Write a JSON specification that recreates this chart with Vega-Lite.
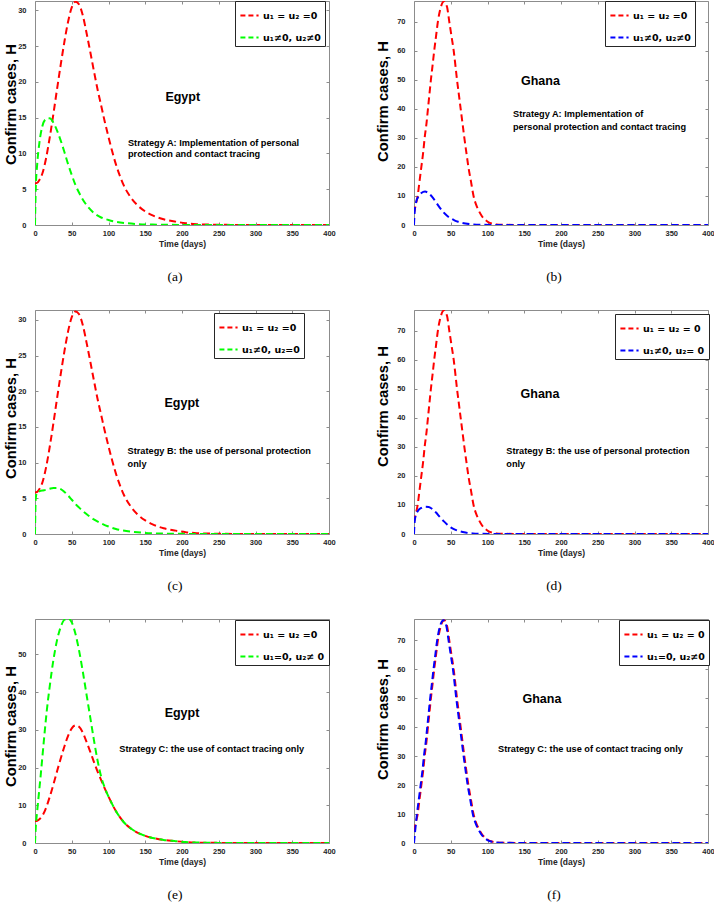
{
"$schema": "https://vega.github.io/schema/vega-lite/v6.json",
"padding": {"left": 2, "top": 0, "right": 0, "bottom": 0},
"bounds": "flush",
"columns": 2,
"spacing": {"row": 85, "column": 85},
"datasets": {
"curves": [
{"series":"E0","t":0,"H":5.8},{"series":"E0","t":3,"H":5.9},{"series":"E0","t":6,"H":6.3},{"series":"E0","t":10,"H":7.2},{"series":"E0","t":15,"H":9.3},{"series":"E0","t":20,"H":12.2},{"series":"E0","t":25,"H":15.5},{"series":"E0","t":30,"H":19.0},{"series":"E0","t":35,"H":22.4},{"series":"E0","t":40,"H":25.6},{"series":"E0","t":45,"H":28.4},{"series":"E0","t":50,"H":30.4},{"series":"E0","t":55,"H":31.2},{"series":"E0","t":60,"H":30.8},{"series":"E0","t":65,"H":29.3},{"series":"E0","t":70,"H":26.9},{"series":"E0","t":75,"H":24.3},{"series":"E0","t":80,"H":21.6},{"series":"E0","t":85,"H":19.0},{"series":"E0","t":90,"H":16.7},{"series":"E0","t":95,"H":14.4},{"series":"E0","t":100,"H":12.3},{"series":"E0","t":105,"H":10.3},{"series":"E0","t":110,"H":8.5},{"series":"E0","t":115,"H":7.0},{"series":"E0","t":120,"H":5.7},{"series":"E0","t":130,"H":3.9},{"series":"E0","t":140,"H":2.7},{"series":"E0","t":150,"H":1.9},{"series":"E0","t":160,"H":1.35},{"series":"E0","t":175,"H":0.8},{"series":"E0","t":190,"H":0.5},{"series":"E0","t":205,"H":0.25},{"series":"E0","t":220,"H":0.12},{"series":"E0","t":240,"H":0.05},{"series":"E0","t":260,"H":0.02},{"series":"E0","t":300,"H":0},{"series":"E0","t":400,"H":0},
{"series":"EA","t":0,"H":0},{"series":"EA","t":1,"H":5},{"series":"EA","t":3,"H":8.5},{"series":"EA","t":6,"H":11.5},{"series":"EA","t":10,"H":13.8},{"series":"EA","t":15,"H":14.8},{"series":"EA","t":20,"H":14.9},{"series":"EA","t":25,"H":14.3},{"series":"EA","t":30,"H":13.2},{"series":"EA","t":35,"H":11.8},{"series":"EA","t":40,"H":10.2},{"series":"EA","t":45,"H":8.5},{"series":"EA","t":50,"H":7.0},{"series":"EA","t":55,"H":5.6},{"series":"EA","t":60,"H":4.5},{"series":"EA","t":70,"H":2.8},{"series":"EA","t":80,"H":1.7},{"series":"EA","t":90,"H":1.05},{"series":"EA","t":100,"H":0.7},{"series":"EA","t":110,"H":0.45},{"series":"EA","t":125,"H":0.25},{"series":"EA","t":140,"H":0.13},{"series":"EA","t":160,"H":0.06},{"series":"EA","t":200,"H":0.01},{"series":"EA","t":250,"H":0},{"series":"EA","t":400,"H":0},
{"series":"EB","t":0,"H":0},{"series":"EB","t":1,"H":5},{"series":"EB","t":3,"H":5.9},{"series":"EB","t":6,"H":6.0},{"series":"EB","t":10,"H":6.1},{"series":"EB","t":15,"H":6.2},{"series":"EB","t":20,"H":6.35},{"series":"EB","t":25,"H":6.45},{"series":"EB","t":30,"H":6.45},{"series":"EB","t":35,"H":6.3},{"series":"EB","t":40,"H":5.9},{"series":"EB","t":45,"H":5.4},{"series":"EB","t":50,"H":4.8},{"series":"EB","t":55,"H":4.2},{"series":"EB","t":60,"H":3.7},{"series":"EB","t":70,"H":2.8},{"series":"EB","t":80,"H":2.05},{"series":"EB","t":90,"H":1.5},{"series":"EB","t":100,"H":1.05},{"series":"EB","t":110,"H":0.7},{"series":"EB","t":120,"H":0.48},{"series":"EB","t":135,"H":0.28},{"series":"EB","t":150,"H":0.15},{"series":"EB","t":175,"H":0.06},{"series":"EB","t":200,"H":0.02},{"series":"EB","t":250,"H":0},{"series":"EB","t":400,"H":0},
{"series":"EC","t":0,"H":0},{"series":"EC","t":1,"H":4},{"series":"EC","t":3,"H":8.5},{"series":"EC","t":5,"H":12.5},{"series":"EC","t":8,"H":18.5},{"series":"EC","t":12,"H":27},{"series":"EC","t":16,"H":35},{"series":"EC","t":20,"H":41.5},{"series":"EC","t":25,"H":48.5},{"series":"EC","t":30,"H":53.8},{"series":"EC","t":35,"H":57.3},{"series":"EC","t":40,"H":59.2},{"series":"EC","t":45,"H":59.5},{"series":"EC","t":50,"H":58.5},{"series":"EC","t":55,"H":55.5},{"series":"EC","t":60,"H":51},{"series":"EC","t":65,"H":45.5},{"series":"EC","t":70,"H":39.5},{"series":"EC","t":75,"H":33.5},{"series":"EC","t":80,"H":27.5},{"series":"EC","t":85,"H":22.0},{"series":"EC","t":90,"H":17.6},{"series":"EC","t":95,"H":14.6},{"series":"EC","t":100,"H":12.3},{"series":"EC","t":105,"H":10.3},{"series":"EC","t":110,"H":8.5},{"series":"EC","t":115,"H":7.0},{"series":"EC","t":120,"H":5.7},{"series":"EC","t":130,"H":3.9},{"series":"EC","t":140,"H":2.7},{"series":"EC","t":150,"H":1.9},{"series":"EC","t":160,"H":1.35},{"series":"EC","t":175,"H":0.8},{"series":"EC","t":190,"H":0.5},{"series":"EC","t":205,"H":0.25},{"series":"EC","t":220,"H":0.12},{"series":"EC","t":250,"H":0.03},{"series":"EC","t":300,"H":0},{"series":"EC","t":400,"H":0},
{"series":"G0","t":0,"H":4},{"series":"G0","t":2,"H":6.5},{"series":"G0","t":5,"H":10},{"series":"G0","t":7.5,"H":15},{"series":"G0","t":10,"H":20},{"series":"G0","t":12.5,"H":25},{"series":"G0","t":14.5,"H":30},{"series":"G0","t":17,"H":35},{"series":"G0","t":19,"H":40},{"series":"G0","t":21,"H":45},{"series":"G0","t":23,"H":50},{"series":"G0","t":25.3,"H":55},{"series":"G0","t":27.5,"H":60},{"series":"G0","t":30,"H":65},{"series":"G0","t":32.5,"H":70},{"series":"G0","t":36.5,"H":75},{"series":"G0","t":41,"H":77},{"series":"G0","t":45,"H":75},{"series":"G0","t":48,"H":70},{"series":"G0","t":51,"H":65},{"series":"G0","t":54,"H":60},{"series":"G0","t":56.3,"H":55},{"series":"G0","t":58.5,"H":50},{"series":"G0","t":61,"H":45},{"series":"G0","t":63.5,"H":40},{"series":"G0","t":66,"H":35},{"series":"G0","t":68.5,"H":30},{"series":"G0","t":71.2,"H":25},{"series":"G0","t":74,"H":20},{"series":"G0","t":77.5,"H":15},{"series":"G0","t":81,"H":10},{"series":"G0","t":84.5,"H":7},{"series":"G0","t":88,"H":5},{"series":"G0","t":92,"H":3.2},{"series":"G0","t":96,"H":2},{"series":"G0","t":101,"H":1.0},{"series":"G0","t":106,"H":0.5},{"series":"G0","t":112,"H":0.2},{"series":"G0","t":120,"H":0.08},{"series":"G0","t":140,"H":0.02},{"series":"G0","t":160,"H":0},{"series":"G0","t":400,"H":0},
{"series":"GA","t":0,"H":0},{"series":"GA","t":1,"H":5},{"series":"GA","t":3,"H":8},{"series":"GA","t":6,"H":9.8},{"series":"GA","t":10,"H":11},{"series":"GA","t":15,"H":11.5},{"series":"GA","t":20,"H":10.9},{"series":"GA","t":25,"H":9.6},{"series":"GA","t":30,"H":7.8},{"series":"GA","t":35,"H":6.0},{"series":"GA","t":40,"H":4.4},{"series":"GA","t":45,"H":3.2},{"series":"GA","t":50,"H":2.3},{"series":"GA","t":55,"H":1.6},{"series":"GA","t":60,"H":1.1},{"series":"GA","t":70,"H":0.5},{"series":"GA","t":80,"H":0.2},{"series":"GA","t":90,"H":0.08},{"series":"GA","t":110,"H":0.02},{"series":"GA","t":140,"H":0},{"series":"GA","t":400,"H":0},
{"series":"GB","t":0,"H":0},{"series":"GB","t":1,"H":4.5},{"series":"GB","t":3,"H":6.8},{"series":"GB","t":6,"H":8.2},{"series":"GB","t":10,"H":9.0},{"series":"GB","t":15,"H":9.4},{"series":"GB","t":20,"H":9.3},{"series":"GB","t":25,"H":8.6},{"series":"GB","t":30,"H":7.4},{"series":"GB","t":35,"H":5.9},{"series":"GB","t":40,"H":4.5},{"series":"GB","t":45,"H":3.3},{"series":"GB","t":50,"H":2.3},{"series":"GB","t":55,"H":1.6},{"series":"GB","t":60,"H":1.1},{"series":"GB","t":70,"H":0.5},{"series":"GB","t":80,"H":0.2},{"series":"GB","t":90,"H":0.08},{"series":"GB","t":110,"H":0.02},{"series":"GB","t":140,"H":0},{"series":"GB","t":400,"H":0},
{"series":"GC","t":0,"H":0},{"series":"GC","t":1.5,"H":4},{"series":"GC","t":4,"H":10},{"series":"GC","t":6.5,"H":15},{"series":"GC","t":9,"H":20},{"series":"GC","t":11.5,"H":25},{"series":"GC","t":13.5,"H":30},{"series":"GC","t":16,"H":35},{"series":"GC","t":18,"H":40},{"series":"GC","t":20,"H":45},{"series":"GC","t":22,"H":50},{"series":"GC","t":24.3,"H":55},{"series":"GC","t":26.5,"H":60},{"series":"GC","t":29,"H":65},{"series":"GC","t":31.5,"H":70},{"series":"GC","t":35.5,"H":75},{"series":"GC","t":40,"H":77},{"series":"GC","t":44,"H":75},{"series":"GC","t":47,"H":70},{"series":"GC","t":50,"H":65},{"series":"GC","t":53,"H":60},{"series":"GC","t":55.3,"H":55},{"series":"GC","t":57.5,"H":50},{"series":"GC","t":60,"H":45},{"series":"GC","t":62.5,"H":40},{"series":"GC","t":65,"H":35},{"series":"GC","t":67.5,"H":30},{"series":"GC","t":70.2,"H":25},{"series":"GC","t":73,"H":20},{"series":"GC","t":76.5,"H":15},{"series":"GC","t":80,"H":10},{"series":"GC","t":83.5,"H":7},{"series":"GC","t":87,"H":5},{"series":"GC","t":91,"H":3.2},{"series":"GC","t":95,"H":2},{"series":"GC","t":100,"H":1.0},{"series":"GC","t":105,"H":0.5},{"series":"GC","t":111,"H":0.2},{"series":"GC","t":119,"H":0.08},{"series":"GC","t":140,"H":0.02},{"series":"GC","t":160,"H":0},{"series":"GC","t":400,"H":0}
]
},
"resolve": {"scale": {"x": "independent", "y": "independent", "color": "independent"}, "legend": {"color": "independent"}},
"concat": [
{
"width": 294, "height": 224,
"title": {"text": "(a)"},
"layer": [
{"data": {"name": "curves"}, "transform": [{"filter": {"field": "series", "oneOf": ["E0","EA"]}}],
 "mark": {"type": "line", "strokeDash": [7,4], "strokeWidth": 2, "clip": true, "interpolate": "monotone"},
 "encoding": {
  "x": {"field": "t", "type": "quantitative", "scale": {"domain": [0,400], "nice": false}, "axis": {"values": [0,50,100,150,200,250,300,350,400], "title": "Time (days)"}},
  "y": {"field": "H", "type": "quantitative", "scale": {"domain": [0,31.3], "nice": false}, "axis": {"values": [0,5,10,15,20,25,30], "title": "Confirm cases, H", "titleX": -24, "titleY": 103}},
  "color": {"field": "series", "type": "nominal", "scale": {"domain": ["E0","EA"], "range": ["#ff0000","#00ff00"]}, "legend": {"title": null, "orient": "none", "legendX": 200, "legendY": 0, "labelExpr": "datum.value == 'E0' ? 'u₁ = u₂ =0' : 'u₁≠0, u₂≠0'"}}
 }},
{"data": {"values": [{"t": 201, "H": 17.9, "label": "Egypt"}]},
 "mark": {"type": "text", "fontSize": 12.5, "fontWeight": "bold", "align": "center", "baseline": "middle"},
 "encoding": {
  "x": {"field": "t", "type": "quantitative", "axis": {"orient": "top", "labels": false, "title": null, "values": [0,50,100,150,200,250,300,350,400]}},
  "y": {"field": "H", "type": "quantitative", "axis": {"orient": "right", "labels": false, "title": null, "values": [0,5,10,15,20,25,30]}},
  "text": {"field": "label"}}},
{"data": {"values": [{"t": 126.5, "H": 11.5, "label": "Strategy A: Implementation of personal"}, {"t": 126.5, "H": 9.9, "label": "protection and contact tracing"}]},
 "mark": {"type": "text", "fontSize": 9.2, "fontWeight": "bold", "align": "left", "baseline": "middle"},
 "encoding": {
  "x": {"field": "t", "type": "quantitative", "axis": null},
  "y": {"field": "H", "type": "quantitative", "axis": null},
  "text": {"field": "label"}}}
],
"resolve": {"axis": {"x": "independent", "y": "independent"}}
},
{
"width": 294, "height": 224,
"title": {"text": "(b)"},
"layer": [
{"data": {"name": "curves"}, "transform": [{"filter": {"field": "series", "oneOf": ["G0","GA"]}}],
 "mark": {"type": "line", "strokeDash": [7,4], "strokeWidth": 2, "clip": true, "interpolate": "monotone"},
 "encoding": {
  "x": {"field": "t", "type": "quantitative", "scale": {"domain": [0,400], "nice": false}, "axis": {"values": [0,50,100,150,200,250,300,350,400], "title": "Time (days)"}},
  "y": {"field": "H", "type": "quantitative", "scale": {"domain": [0,77.1], "nice": false}, "axis": {"values": [0,10,20,30,40,50,60,70], "title": "Confirm cases, H", "titleX": -31, "titleY": 100}},
  "color": {"field": "series", "type": "nominal", "scale": {"domain": ["G0","GA"], "range": ["#ff0000","#0000ff"]}, "legend": {"title": null, "orient": "none", "legendX": 191, "legendY": 0, "labelExpr": "datum.value == 'G0' ? 'u₁ = u₂ =0' : 'u₁≠0, u₂≠0'"}}
 }},
{"data": {"values": [{"t": 172, "H": 49.6, "label": "Ghana"}]},
 "mark": {"type": "text", "fontSize": 12.5, "fontWeight": "bold", "align": "center", "baseline": "middle"},
 "encoding": {
  "x": {"field": "t", "type": "quantitative", "axis": {"orient": "top", "labels": false, "title": null, "values": [0,50,100,150,200,250,300,350,400]}},
  "y": {"field": "H", "type": "quantitative", "axis": {"orient": "right", "labels": false, "title": null, "values": [0,10,20,30,40,50,60,70]}},
  "text": {"field": "label"}}},
{"data": {"values": [{"t": 134.7, "H": 38.1, "label": "Strategy A: Implementation of"}, {"t": 134.7, "H": 33.7, "label": "personal protection and contact tracing"}]},
 "mark": {"type": "text", "fontSize": 9.2, "fontWeight": "bold", "align": "left", "baseline": "middle"},
 "encoding": {
  "x": {"field": "t", "type": "quantitative", "axis": null},
  "y": {"field": "H", "type": "quantitative", "axis": null},
  "text": {"field": "label"}}}
],
"resolve": {"axis": {"x": "independent", "y": "independent"}}
},
{
"width": 294, "height": 224,
"title": {"text": "(c)"},
"layer": [
{"data": {"name": "curves"}, "transform": [{"filter": {"field": "series", "oneOf": ["E0","EB"]}}],
 "mark": {"type": "line", "strokeDash": [7,4], "strokeWidth": 2, "clip": true, "interpolate": "monotone"},
 "encoding": {
  "x": {"field": "t", "type": "quantitative", "scale": {"domain": [0,400], "nice": false}, "axis": {"values": [0,50,100,150,200,250,300,350,400], "title": "Time (days)"}},
  "y": {"field": "H", "type": "quantitative", "scale": {"domain": [0,31.4], "nice": false}, "axis": {"values": [0,5,10,15,20,25,30], "title": "Confirm cases, H", "titleX": -24, "titleY": 108}},
  "color": {"field": "series", "type": "nominal", "scale": {"domain": ["E0","EB"], "range": ["#ff0000","#00ff00"]}, "legend": {"title": null, "orient": "none", "legendX": 179, "legendY": 3, "labelExpr": "datum.value == 'E0' ? 'u₁ = u₂ =0' : 'u₁≠0, u₂=0'"}}
 }},
{"data": {"values": [{"t": 199.8, "H": 18.3, "label": "Egypt"}]},
 "mark": {"type": "text", "fontSize": 12.5, "fontWeight": "bold", "align": "center", "baseline": "middle"},
 "encoding": {
  "x": {"field": "t", "type": "quantitative", "axis": {"orient": "top", "labels": false, "title": null, "values": [0,50,100,150,200,250,300,350,400]}},
  "y": {"field": "H", "type": "quantitative", "axis": {"orient": "right", "labels": false, "title": null, "values": [0,5,10,15,20,25,30]}},
  "text": {"field": "label"}}},
{"data": {"values": [{"t": 126, "H": 11.6, "label": "Strategy B: the use of personal protection"}, {"t": 126, "H": 9.8, "label": "\u00a0only"}]},
 "mark": {"type": "text", "fontSize": 9.2, "fontWeight": "bold", "align": "left", "baseline": "middle"},
 "encoding": {
  "x": {"field": "t", "type": "quantitative", "axis": null},
  "y": {"field": "H", "type": "quantitative", "axis": null},
  "text": {"field": "label"}}}
],
"resolve": {"axis": {"x": "independent", "y": "independent"}}
},
{
"width": 294, "height": 224,
"title": {"text": "(d)"},
"layer": [
{"data": {"name": "curves"}, "transform": [{"filter": {"field": "series", "oneOf": ["G0","GB"]}}],
 "mark": {"type": "line", "strokeDash": [7,4], "strokeWidth": 2, "clip": true, "interpolate": "monotone"},
 "encoding": {
  "x": {"field": "t", "type": "quantitative", "scale": {"domain": [0,400], "nice": false}, "axis": {"values": [0,50,100,150,200,250,300,350,400], "title": "Time (days)"}},
  "y": {"field": "H", "type": "quantitative", "scale": {"domain": [0,77.1], "nice": false}, "axis": {"values": [0,10,20,30,40,50,60,70], "title": "Confirm cases, H", "titleX": -31, "titleY": 96}},
  "color": {"field": "series", "type": "nominal", "scale": {"domain": ["G0","GB"], "range": ["#ff0000","#0000ff"]}, "legend": {"title": null, "orient": "none", "legendX": 201, "legendY": 4, "labelExpr": "datum.value == 'G0' ? 'u₁ = u₂ = 0' : 'u₁≠0, u₂= 0'"}}
 }},
{"data": {"values": [{"t": 171.4, "H": 48.1, "label": "Ghana"}]},
 "mark": {"type": "text", "fontSize": 12.5, "fontWeight": "bold", "align": "center", "baseline": "middle"},
 "encoding": {
  "x": {"field": "t", "type": "quantitative", "axis": {"orient": "top", "labels": false, "title": null, "values": [0,50,100,150,200,250,300,350,400]}},
  "y": {"field": "H", "type": "quantitative", "axis": {"orient": "right", "labels": false, "title": null, "values": [0,10,20,30,40,50,60,70]}},
  "text": {"field": "label"}}},
{"data": {"values": [{"t": 125.6, "H": 28.4, "label": "Strategy B: the use of personal protection"}, {"t": 125.6, "H": 24.1, "label": "\u00a0only"}]},
 "mark": {"type": "text", "fontSize": 9.2, "fontWeight": "bold", "align": "left", "baseline": "middle"},
 "encoding": {
  "x": {"field": "t", "type": "quantitative", "axis": null},
  "y": {"field": "H", "type": "quantitative", "axis": null},
  "text": {"field": "label"}}}
],
"resolve": {"axis": {"x": "independent", "y": "independent"}}
},
{
"width": 294, "height": 224,
"title": {"text": "(e)"},
"layer": [
{"data": {"name": "curves"}, "transform": [{"filter": {"field": "series", "oneOf": ["E0","EC"]}}],
 "mark": {"type": "line", "strokeDash": [7,4], "strokeWidth": 2, "clip": true, "interpolate": "monotone"},
 "encoding": {
  "x": {"field": "t", "type": "quantitative", "scale": {"domain": [0,400], "nice": false}, "axis": {"values": [0,50,100,150,200,250,300,350,400], "title": "Time (days)"}},
  "y": {"field": "H", "type": "quantitative", "scale": {"domain": [0,59.4], "nice": false}, "axis": {"values": [0,10,20,30,40,50], "title": "Confirm cases, H", "titleX": -24, "titleY": 107}},
  "color": {"field": "series", "type": "nominal", "scale": {"domain": ["E0","EC"], "range": ["#ff0000","#00ff00"]}, "legend": {"title": null, "orient": "none", "legendX": 200, "legendY": 1, "labelExpr": "datum.value == 'E0' ? 'u₁ = u₂ =0' : 'u₁=0, u₂≠ 0'"}}
 }},
{"data": {"values": [{"t": 200, "H": 34.6, "label": "Egypt"}]},
 "mark": {"type": "text", "fontSize": 12.5, "fontWeight": "bold", "align": "center", "baseline": "middle"},
 "encoding": {
  "x": {"field": "t", "type": "quantitative", "axis": {"orient": "top", "labels": false, "title": null, "values": [0,50,100,150,200,250,300,350,400]}},
  "y": {"field": "H", "type": "quantitative", "axis": {"orient": "right", "labels": false, "title": null, "values": [0,10,20,30,40,50]}},
  "text": {"field": "label"}}},
{"data": {"values": [{"t": 114.7, "H": 24.9, "label": "Strategy C: the use of contact tracing only"}]},
 "mark": {"type": "text", "fontSize": 9.2, "fontWeight": "bold", "align": "left", "baseline": "middle"},
 "encoding": {
  "x": {"field": "t", "type": "quantitative", "axis": null},
  "y": {"field": "H", "type": "quantitative", "axis": null},
  "text": {"field": "label"}}}
],
"resolve": {"axis": {"x": "independent", "y": "independent"}}
},
{
"width": 294, "height": 224,
"title": {"text": "(f)"},
"layer": [
{"data": {"name": "curves"}, "transform": [{"filter": {"field": "series", "oneOf": ["G0","GC"]}}],
 "mark": {"type": "line", "strokeDash": [7,4], "strokeWidth": 2, "clip": true, "interpolate": "monotone"},
 "encoding": {
  "x": {"field": "t", "type": "quantitative", "scale": {"domain": [0,400], "nice": false}, "axis": {"values": [0,50,100,150,200,250,300,350,400], "title": "Time (days)"}},
  "y": {"field": "H", "type": "quantitative", "scale": {"domain": [0,77.4], "nice": false}, "axis": {"values": [0,10,20,30,40,50,60,70], "title": "Confirm cases, H", "titleX": -31, "titleY": 100}},
  "color": {"field": "series", "type": "nominal", "scale": {"domain": ["G0","GC"], "range": ["#ff0000","#0000ff"]}, "legend": {"title": null, "orient": "none", "legendX": 205, "legendY": 1, "labelExpr": "datum.value == 'G0' ? 'u₁ = u₂ = 0' : 'u₁=0, u₂≠0'"}}
 }},
{"data": {"values": [{"t": 174, "H": 49.8, "label": "Ghana"}]},
 "mark": {"type": "text", "fontSize": 12.5, "fontWeight": "bold", "align": "center", "baseline": "middle"},
 "encoding": {
  "x": {"field": "t", "type": "quantitative", "axis": {"orient": "top", "labels": false, "title": null, "values": [0,50,100,150,200,250,300,350,400]}},
  "y": {"field": "H", "type": "quantitative", "axis": {"orient": "right", "labels": false, "title": null, "values": [0,10,20,30,40,50,60,70]}},
  "text": {"field": "label"}}},
{"data": {"values": [{"t": 114.3, "H": 32.4, "label": "Strategy C: the use of contact tracing only"}]},
 "mark": {"type": "text", "fontSize": 9.2, "fontWeight": "bold", "align": "left", "baseline": "middle"},
 "encoding": {
  "x": {"field": "t", "type": "quantitative", "axis": null},
  "y": {"field": "H", "type": "quantitative", "axis": null},
  "text": {"field": "label"}}}
],
"resolve": {"axis": {"x": "independent", "y": "independent"}}
}
],
"config": {
 "font": "Liberation Sans",
 "view": {"stroke": "#8c8c8c", "strokeWidth": 1},
 "axis": {"domain": false, "grid": false, "tickSize": -3, "tickColor": "#8c8c8c", "tickWidth": 1, "labelFontSize": 7.5, "labelFontWeight": "bold", "labelColor": "#262626", "labelPadding": 12, "labelFlush": false, "titleFontSize": 8.5, "titleFontWeight": "bold", "titleColor": "#262626"},
 "axisX": {"labelPadding": 7, "titlePadding": 3},
 "axisY": {"titleFontSize": 14.8, "titleFontWeight": "bold", "titleColor": "#000000", "titleAngle": 270, "titleBaseline": "middle", "titleAlign": "center"},
 "legend": {"strokeColor": "#262626", "fillColor": "#ffffff", "padding": 4, "labelFont": "DejaVu Sans", "labelFontSize": 9.5, "labelFontWeight": "bold", "labelColor": "#000000", "labelLimit": 0, "labelOffset": 3, "symbolType": "stroke", "symbolStrokeWidth": 2, "symbolDash": [5,3], "symbolSize": 330, "rowPadding": 7},
 "title": {"orient": "bottom", "font": "Liberation Serif", "fontSize": 13.5, "fontWeight": "normal", "color": "#000000", "anchor": "middle", "frame": "group", "dx": -7, "offset": 22},
 "text": {"font": "Liberation Sans", "color": "#000000"}
}
}
